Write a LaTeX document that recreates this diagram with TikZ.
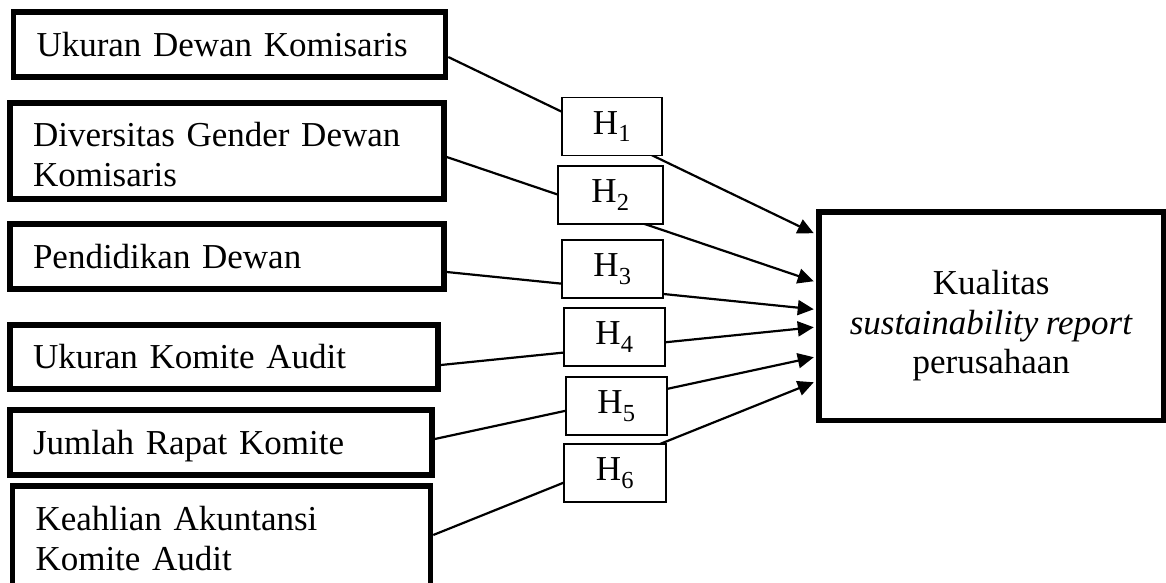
\documentclass[tikz,border=0pt]{standalone}
\usepackage{fontspec}
\setmainfont[WordSpace=0.85]{Liberation Serif}
\usetikzlibrary{arrows.meta}
\begin{document}
\begin{tikzpicture}[x=1pt,y=-1pt,
  txt/.style={font=\fontsize{35}{39.5}\selectfont},
  srcbox/.style={txt,draw,line width=5.5pt,inner xsep=23pt,inner ysep=0pt,align=left},
  hbox/.style={txt,draw,line width=1.3pt,fill=white,inner sep=0pt,minimum height=58pt},
  conn/.style={line width=2.2pt,-{Triangle[length=16pt,width=15pt]}}
]
\useasboundingbox (0,0) rectangle (1166,582);
% source boxes
\node[srcbox,text width=386pt,minimum height=65pt] (b1) at (229.5,44.5) {Ukuran Dewan Komisaris};
\node[srcbox,text width=388pt,minimum height=96pt] (b2) at (227,151) {\rule{0pt}{31pt}Diversitas Gender Dewan\\Komisaris};
\node[srcbox,text width=388pt,minimum height=65pt] (b3) at (227,256.5) {Pendidikan Dewan};
\node[srcbox,text width=382pt,minimum height=64pt] (b4) at (224,357) {Ukuran Komite Audit};
\node[srcbox,text width=376pt,minimum height=65pt,text depth=0pt] (b5) at (221,442.5) {Jumlah Rapat Komite};
\node[srcbox,text width=372pt,minimum height=105pt] (b6) at (221.5,538.5) {Keahlian Akuntansi\\Komite Audit};
% target box
\node[txt,draw,line width=5.5pt,minimum width=344.5pt,minimum height=208.5pt,align=center,inner sep=0pt,text depth=0pt] (t) at (991.25,316.25)
  {\rule{0pt}{36pt}Kualitas\\\textit{sustainability report}\\perusahaan};
% connectors
\draw[conn] ([yshift=-12.5pt]b1.east) -- ([xshift=-2.5pt,yshift=83pt]t.west);
\draw[conn] ([yshift=-6pt]b2.east) -- ([xshift=-2.5pt,yshift=35pt]t.west);
\draw[conn] ([yshift=-15.5pt]b3.east) -- ([xshift=-2.5pt,yshift=7pt]t.west);
\draw[conn] ([yshift=-8pt]b4.east) -- ([xshift=-2.5pt,yshift=-11pt]t.west);
\draw[conn] ([yshift=3.5pt]b5.east) -- ([xshift=-2.5pt,yshift=-41pt]t.west);
\draw[conn] ([yshift=3.5pt]b6.east) -- ([xshift=-2.5pt,yshift=-66pt]t.west);
% hypothesis boxes
\node[hbox,minimum width=100pt] (h1) at (612,126.5) {H\textsubscript{1}};
\node[hbox,minimum width=105pt] (h2) at (610.5,195) {H\textsubscript{2}};
\node[hbox,minimum width=101pt] (h3) at (612.5,269) {H\textsubscript{3}};
\node[hbox,minimum width=101pt] (h4) at (614.5,337) {H\textsubscript{4}};
\node[hbox,minimum width=101pt] (h5) at (616.5,406) {H\textsubscript{5}};
\node[hbox,minimum width=102pt] (h6) at (615,473) {H\textsubscript{6}};
\end{tikzpicture}
\end{document}
